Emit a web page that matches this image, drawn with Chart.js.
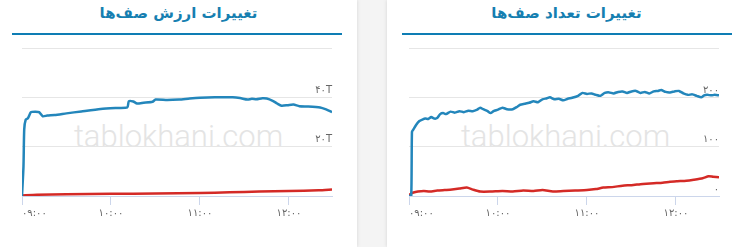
<!DOCTYPE html>
<html>
<head>
<meta charset="utf-8">
<script src="https://cdn.jsdelivr.net/npm/chart.js@4"></script>
<style>
  html, body { margin: 0; padding: 0; }
  body { width: 746px; height: 247px; background: #f4f4f4; position: relative; overflow: hidden; font-family: "DejaVu Sans", sans-serif; }
  .card { position: absolute; top: 0; height: 247px; background: #fff; box-shadow: 0 0 4px rgba(0,0,0,0.13); overflow: hidden; }
  .title { position: absolute; top: 4px; left: 0; right: 0; text-align: center; color: #167fb1; font-size: 15px; font-weight: bold; direction: rtl; }
  .line { position: absolute; top: 33px; height: 2px; background: #0e7db4; }
  .mark { position: absolute; top: 118px; left: 0; width: 357px; text-align: center; font-family: Roboto, sans-serif; font-weight: 300; font-size: 31px; color: #e4e4e4; }
  .box { position: absolute; left: 0; top: 40px; width: 357px; height: 200px; }
</style>
</head>
<body>
<div class="card" style="left:0;width:357px;">
  <div class="title">تغییرات ارزش صف‌ها</div>
  <div class="line" style="left:12px;width:330px;"></div>
  <div class="mark">tablokhani.com</div>
  <div class="box"><canvas id="valueChart"></canvas></div>
</div>
<div class="card" style="left:387px;width:370px;">
  <div class="title" style="right:11px;">تغییرات تعداد صف‌ها</div>
  <div class="line" style="left:15px;width:330px;"></div>
  <div class="mark">tablokhani.com</div>
  <div class="box"><canvas id="countChart"></canvas></div>
</div>
<script>
// minutes after 09:00
const valueBlueTimes = [0, 1, 1.5, 2.5, 4, 6, 9, 11.5, 14, 17, 22, 30, 40, 53, 63, 71, 72, 75, 77.5, 82, 88, 90, 98, 106, 113, 120, 130, 142, 147, 152, 155, 158, 162, 165, 169, 172, 175, 179, 183, 187, 193, 201, 205, 209];
const valueBlue = [0, 12, 27, 31, 31.5, 34, 34.2, 34, 32.3, 32.6, 32.8, 33.5, 34.3, 35.3, 35.7, 35.9, 38.4, 38.3, 37.5, 37.8, 38.2, 39.1, 38.9, 39.1, 39.5, 39.8, 40, 40, 39.7, 39.1, 39.4, 39.2, 39.6, 39.5, 38.6, 37.5, 36.6, 36.8, 37.1, 36.4, 36.3, 35.9, 35.1, 34.0];
const valueRedTimes = [0, 10, 30, 60, 90, 120, 140, 160, 180, 200, 209];
const valueRed = [0.2, 0.5, 0.7, 0.9, 1.0, 1.2, 1.5, 1.8, 2.0, 2.3, 2.6];

const countBlueTimes = [0, 1.5, 2, 3, 5, 7, 9, 11, 13, 15, 17, 19, 21, 23, 25, 28, 31, 34, 37, 40, 43, 46, 48, 50, 53, 55, 57, 60, 63, 66, 70, 73, 75, 78, 81, 84, 87, 90, 93, 95, 98, 101, 104, 107, 110, 114, 117, 120, 123, 126, 129, 132, 135, 138, 141, 144, 147, 150, 153, 156, 159, 162, 165, 168, 170, 173, 176, 179, 182, 185, 188, 191, 194, 197, 199, 201, 204, 206, 209];
const countBlue = [0, 0, 130, 135, 145, 152, 155, 157, 156, 160, 157, 158, 166, 168, 166, 171, 169, 172, 170, 173, 172, 175, 179, 176, 172, 168, 172, 175, 179, 176, 176, 181, 185, 187, 189, 192, 190, 196, 198, 200, 196, 197, 194, 197, 199, 203, 209, 207, 208, 205, 203, 209, 210, 208, 211, 212, 209, 212, 213, 209, 211, 208, 212, 213, 215, 211, 210, 212, 213, 208, 205, 206, 203, 200, 204, 205, 204, 205, 204];
const countRedTimes = [0, 1, 3, 6, 10, 14, 19, 24, 29, 34, 39, 43, 48, 55, 63, 70, 77, 84, 90, 97, 104, 112, 120, 126, 131, 137, 144, 150, 156, 160, 165, 171, 176, 181, 187, 192, 198, 202, 205, 209];
const countRed = [0, 4, 7, 9, 10, 9, 11, 12, 13, 15, 17, 13, 9, 9, 10, 9, 11, 10, 12, 9, 10, 11, 12, 14, 17, 18, 21, 22, 24, 25, 26, 27, 29, 30, 31, 33, 36, 40, 39, 38];

const hourTicks = [0, 60, 120, 180];
const endMinute = 209;

const blueColor = "#2386bb";
const redColor = "#d42a26";

function toFa(s) {
  return String(s).replace(/[0-9]/g, (d) => "۰۱۲۳۴۵۶۷۸۹"[d]);
}

function pts(times, vals) {
  return times.map((t, i) => ({ x: t, y: vals[i] }));
}

Chart.defaults.font.family = "DejaVu Sans";
Chart.defaults.color = "#666";

function makeChart(id, blueTimes, blue, redTimes, red, yMax, yStep, suffix) {
  return new Chart(document.getElementById(id), {
    type: "line",
    data: {
      datasets: [
        { data: pts(blueTimes, blue), borderColor: blueColor, borderWidth: 2.5, pointRadius: 0, tension: 0.2 },
        { data: pts(redTimes, red), borderColor: redColor, borderWidth: 2.5, pointRadius: 0, tension: 0.2 },
      ],
    },
    options: {
      responsive: true,
      maintainAspectRatio: false,
      animation: false,
      layout: { padding: { left: 22, right: 25, top: 8, bottom: 14 } },
      plugins: { legend: { display: false }, tooltip: { enabled: false } },
      scales: {
        x: {
          type: "linear",
          min: 0,
          max: endMinute,
          afterFit: (s) => { s.height = 30; },
          afterBuildTicks: (s) => { s.ticks = hourTicks.concat([endMinute]).map((v) => ({ value: v })); },
          border: { color: "#ccd6eb" },
          grid: {
            drawOnChartArea: false,
            tickLength: 9,
            color: (c) => (c.tick && c.tick.value === endMinute ? "rgba(0,0,0,0)" : "#ccd6eb"),
          },
          ticks: {
            align: "inner",
            padding: 2,
            maxRotation: 0,
            font: { size: 10 },
            callback: (v) => {
              if (v === endMinute) return "";
              const h = 9 + Math.floor(v / 60);
              return toFa((h < 10 ? "0" : "") + h + ":00");
            },
          },
        },
        y: {
          position: "right",
          min: 0,
          max: yMax,
          afterFit: (s) => { s.width = 0; },
          border: { display: false },
          grid: { color: "#e6e6e6", drawTicks: false },
          ticks: {
            stepSize: yStep,
            mirror: true,
            padding: 0,
            labelOffset: -7,
            font: { size: 10 },
            callback: (v) => (v === yMax ? "" : v === 0 ? toFa(0) : toFa(v) + suffix),
          },
        },
      },
    },
  });
}

makeChart("valueChart", valueBlueTimes, valueBlue, valueRedTimes, valueRed, 60, 20, "T");
makeChart("countChart", countBlueTimes, countBlue, countRedTimes, countRed, 300, 100, "");
</script>
</body>
</html>
